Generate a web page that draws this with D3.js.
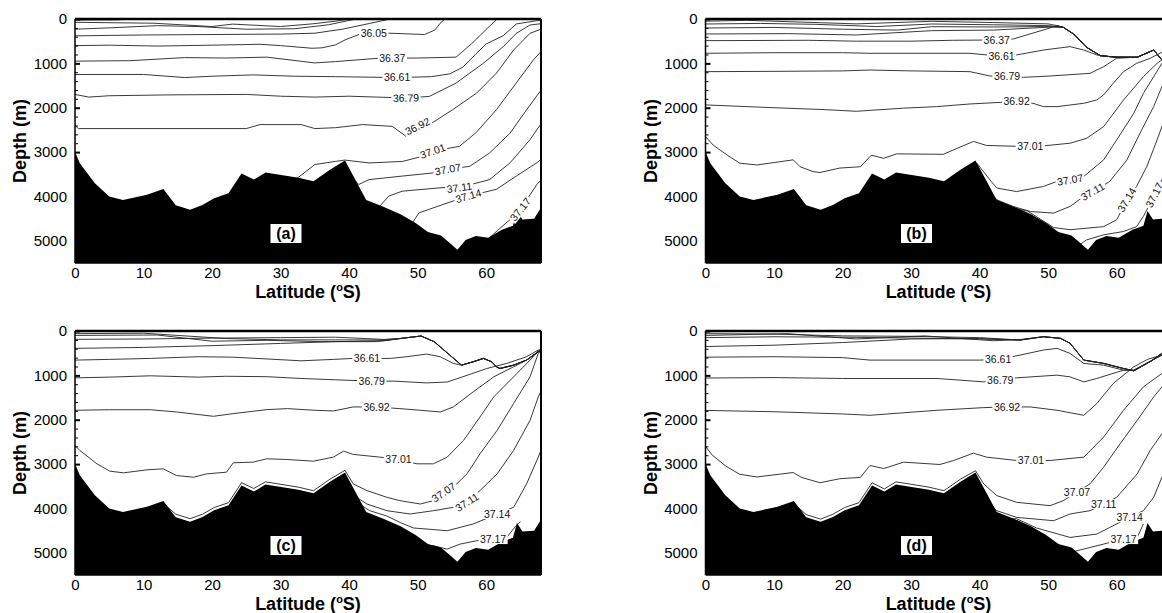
<!DOCTYPE html>
<html lang="en">
<head>
<meta charset="UTF-8">
<title>Salinity sections</title>
<script src="https://cdn.jsdelivr.net/npm/d3@7"></script>
<style>
  body { margin: 0; background: #fff; overflow: hidden; }
  svg { display: block; font-family: Arial, "Liberation Sans", Helvetica, sans-serif; }
  .tick text { font-size: 15px; fill: #000; }
  .domain { display: none; }
  .contour { fill: none; stroke: #222; stroke-width: 0.9; }
  .clabel { font-size: 10.5px; fill: #111; }
  .title { font-size: 18px; font-weight: bold; }
</style>
</head>
<body>
<script>
// axis ticks
var latTicks = [0, 10, 20, 30, 40, 50, 60];
var depthTicks = [0, 1000, 2000, 3000, 4000, 5000];

// bottom topography, [latitude S, depth m]
var bathy = [[0,2990],[0.7,3250],[2.9,3700],[5,4000],[7,4080],[10.5,3960],[12.9,3830],[14.7,4200],
  [16.8,4300],[18.6,4190],[20.3,4040],[22.4,3930],[24.3,3480],[26.1,3620],[27.8,3460],[32.6,3580],
  [34.8,3660],[37.2,3400],[39.4,3190],[42.5,4080],[45,4230],[47.5,4400],[49.7,4600],[51.5,4800],
  [53.4,4880],[54.9,5080],[55.8,5200],[57,4980],[58.5,4890],[60.3,4930],[62.3,4750],[63.9,4660],
  [64.5,4330],[65.3,4520],[67,4500],[68,4250]];

// ---- panel (a) isohalines ----
var aS1 = [[0,25],[6,20],[9,0]];
var aS2 = [[0,75],[11.5,95],[20,170],[23,115],[30,170],[34.6,110],[38,50],[40,0]];
var aS3 = [[0,230],[5,200],[12,150],[18,170],[25,230],[32,220],[37,130],[41,0]];
var aS4 = [[0,380],[10,360],[20,350],[30,340],[35,320],[39,230],[43,100],[46,0]];
var a3605 = [[0,600],[5,590],[12,610],[20,590],[27,570],[30,600],[34.6,660],[36,650],[38,584],[39.4,472],
  [41.9,320],[45,315],[51,350],[52.5,250],[53.5,60],[54,0]];
var a3637 = [[0,950],[8,940],[16,870],[22,880],[28,860],[35,990],[38,960],[44.4,884],[50,880],[55.6,860],
  [57,675],[58.1,525],[60.3,190],[61.6,0]];
var a3661 = [[0,1250],[10,1250],[16,1320],[20,1290],[26,1260],[32,1290],[38,1300],[47,1320],[52,1300],
  [54.7,1236],[56.6,1085],[58.5,787],[60,562],[62.5,375],[64.4,112],[67.4,38],[68.5,30]];
var a3679 = [[0,1700],[2,1760],[5,1730],[14,1710],[25,1700],[30,1740],[35,1760],[40,1740],[44,1760],
  [48.3,1780],[51.7,1745],[55.6,1445],[59.6,996],[62.5,622],[64.4,322],[66.4,135],[68.5,97]];
var a3692 = [[0,2400],[0.5,2470],[25,2470],[27,2380],[33,2380],[35,2470],[38,2450],[42,2380],[46.3,2420],
  [48.3,2645],[50,2420],[51.7,2382],[55.1,2045],[58.6,1670],[61.5,1220],[64,700],[66.4,322],[68.5,200]];
var a3701 = [[31,3700],[32.6,3570],[35,3280],[38,3210],[39.4,3180],[42.9,3245],[47.8,3210],[50.7,3095],
  [52.2,2980],[56.1,2870],[58.5,2565],[61.5,2045],[64.4,1440],[66.9,920],[68.5,650]];
var a3707 = [[40,3500],[41.4,3730],[42.9,3620],[47.8,3540],[52.2,3470],[54.4,3390],[57.6,3320],[60.5,3020],
  [63.5,2570],[65.9,2045],[68.5,1500]];
var a3711 = [[44,4300],[45.8,3990],[47.8,3880],[53.7,3800],[56.1,3800],[60.5,3620],[63.5,3240],[66.4,2720],
  [68.5,2250]];
var a3714 = [[49,4650],[50.2,4370],[53.7,4180],[57.4,3990],[61.5,3840],[64.4,3540],[67.4,3240],[68.5,3100]];
var a3717 = [[60,5000],[62,4720],[63.5,4520],[65,4290],[67.4,3730],[68.5,3550]];

// ---- panel (b) ----
var tailB = [[52.2,187],[53.7,337],[55.6,637],[57.6,826],[60,862],[63,862],[65.4,700],[66.6,923],[68.5,1000]];
var bS1 = [[0,50],[6,30],[14,70],[22,110],[33,52],[42,80],[50,110],[51.3,150]];
var bS2 = [[0,113],[8,100],[16,120],[25,170],[33,113],[42,130],[50,150]];
var bS3 = [[0,203],[10,190],[20,230],[28,250],[33,173],[42,180],[50.5,170]];
var bS4 = [[0,338],[12,330],[22,360],[33,263],[42,250],[50.5,180]];
var b3637 = [[0,488],[15,480],[22,500],[30,500],[36,480],[42.5,473],[44.9,450],[49.8,225],[51.3,150]];
var b3661 = [[0,773],[10,760],[20,760],[24,773],[38.6,773],[41,810],[43.2,833],[45.4,810],[49.3,700],
  [53.2,623],[55.2,700],[57.1,810],[59,850],[63,862],[65.4,700],[66.6,923],[68.5,1000]];
var b3679 = [[0,1187],[10,1180],[20,1170],[24,1150],[30,1170],[38.6,1187],[41.5,1285],[44,1300],[46.4,1315],
  [50.3,1285],[56.1,1225],[58.1,1075],[60,885],[63,862],[65.4,700],[66.6,923],[68.5,1000]];
var b3692 = [[0,1937],[10,2000],[17,2040],[22,2080],[28.9,2010],[33.7,1975],[38.6,1915],[45.4,1860],
  [47.8,1900],[49.3,1975],[51.3,1975],[55.2,1900],[57.1,1825],[58.1,1710],[59.5,1450],[61,1187],
  [62.9,1000],[64.9,885],[66.6,750],[68.5,650]];
var b3701 = [[0,2650],[1.1,2840],[3.1,3060],[5,3250],[7.5,3290],[12.8,3175],[13.8,3330],[15.7,3440],
  [16.7,3460],[19.6,3360],[22.6,3330],[24.2,3070],[26,3140],[27.9,3040],[34.7,3050],[36.2,2950],
  [39.1,2760],[41,2850],[45.4,2870],[49.3,2860],[53.2,2800],[55.6,2690],[58.1,2425],[61,1825],
  [63.9,1300],[65.9,1000],[68.5,700]];
var b3707 = [[39.6,3250],[41.5,3625],[42.5,3810],[45.4,3890],[49.3,3775],[51.3,3660],[53.2,3625],
  [55.2,3550],[58.1,3175],[60,2725],[62.5,2125],[63.9,1675],[65.4,1300],[66.6,1000],[68.5,750]];
var b3711 = [[41.5,3900],[42.5,4075],[44.9,4225],[47.4,4340],[50.8,4375],[53.2,4225],[55.2,4000],
  [56.4,3900],[59,3660],[61.5,3175],[63.4,2575],[65.4,1975],[66.6,1525],[68.5,1200]];
var b3714 = [[44,4240],[47,4330],[50.8,4700],[53.2,4750],[58.1,4680],[60,4525],[61.5,4075],[62.9,3775],
  [64.4,3325],[65.9,2725],[66.6,2425],[68.5,1900]];
var b3717 = [[54.2,5130],[55.6,4980],[58.1,4865],[61,4790],[62.9,4680],[63.9,4450],[65.4,4000],
  [66.6,3625],[68.5,3100]];

// ---- panel (c) ----
var tailC = [[50.5,113],[52.4,240],[54.4,505],[56.4,770],[58.1,694],[59.6,618],[60.8,694],[61.5,807],
  [62,845],[64,770],[65.9,656],[67.6,468],[68.5,420]];
var cS1 = [[0,15],[5,10],[9.5,0]];
var cS2 = [[0,60],[10,50],[15,100],[22,170],[30,200],[38,200],[45.1,204],[47.6,165]];
var cS3 = [[0,188],[10,180],[20,160],[30,150],[38,140],[45.1,190],[47.6,165]];
var cS4 = [[0,391],[10,370],[20,330],[30,280],[38,240],[45.1,220],[48,160]];
var cS5 = [[0,100],[12,90],[20,230],[28,210],[36,240],[44,240],[48,160]];
var c3661 = [[0,656],[5,640],[11,618],[18,580],[23,590],[28,630],[33,672],[37.7,640],[40.6,618],[46,618],
  [48.4,580],[51.3,520],[53.3,580],[55.2,730],[56.4,770],[58.1,694],[59.6,618],[60.8,694],[61.5,807],
  [62,845],[64,770],[65.9,656],[67.6,468],[68.5,420]];
var c3679 = [[0,1056],[5,1040],[11,1010],[18,1040],[22,1020],[28,1030],[33,1070],[38,1100],[43.3,1130],
  [46.5,1130],[51.3,1170],[54.3,1150],[57.2,1000],[60.1,845],[63,730],[65.9,580],[67.6,430],[68.5,400]];
var c3692 = [[0,1787],[5,1775],[11,1775],[14.8,1825],[20.2,1923],[23.1,1862],[28,1772],[31,1750],[35,1787],
  [37.7,1802],[40.6,1712],[44,1712],[47.4,1750],[50.4,1787],[53.3,1825],[55.2,1712],[58.1,1373],
  [61.1,1034],[64,807],[65.9,656],[67.6,468],[68.5,420]];
var c3701 = [[0,2580],[0.7,2692],[3.2,2994],[5.1,3160],[7.1,3197],[10.5,3129],[12.9,3107],[14.8,3258],
  [17.3,3296],[19.2,3220],[22.1,3183],[23.1,2971],[26,2956],[28,2881],[30.9,2896],[34.8,2934],
  [37.7,2843],[39.2,2707],[40.6,2782],[44.5,2843],[47.2,2900],[49.9,2994],[52.3,2994],[54.3,2843],
  [56.7,2466],[59.1,1938],[61.1,1486],[64,1034],[66.4,656],[67.6,450],[68.5,420]];
var c3707 = [[13,3900],[14.7,4130],[16.8,4230],[18.6,4130],[20.3,3980],[22.4,3870],[24.3,3420],
  [26.1,3550],[27.8,3400],[32.6,3520],[34.8,3600],[37.2,3340],[39.4,3140],[40.6,3446],[42.6,3597],
  [45.5,3748],[47.4,3824],[50.4,3900],[52.3,3824],[53.8,3636],[55.2,3522],[57.2,3220],[59.1,2768],
  [61.6,2240],[64,1636],[66.4,1034],[67.6,505],[68.5,420]];
var c3711 = [[40.5,3600],[41.1,3748],[42.6,3900],[45.5,4050],[48.9,4125],[52.3,4050],[55.2,3975],
  [57.2,3860],[59.1,3597],[61.6,3220],[64,2692],[66.4,2014],[67.6,1486],[68.5,1200]];
var c3714 = [[41,3850],[43,4050],[45.5,4170],[47.5,4320],[49.4,4440],[54.3,4502],[58.1,4351],[61.6,4125],
  [64,3975],[65.9,3446],[67.6,2843],[68.5,2500]];
var c3717 = [[51,4900],[52.3,4841],[54.3,4917],[56.2,4803],[58.6,4728],[61,4690],[63,4653],[64.3,4400],
  [65,4300]];

// ---- panel (d) ----
var tailD = [[49.3,129],[51.8,165],[53.2,278],[55.2,656],[58.1,731],[61,845],[62.5,898],[65,680],
  [66.6,505],[68.5,420]];
var dS1 = [[0,15],[5,10],[9,0]];
var dS2 = [[0,60],[10,70],[20,110],[30,120],[40,150],[45.9,204]];
var dS3 = [[0,150],[10,130],[20,140],[30,160],[40,180],[45.9,204]];
var dS4 = [[0,350],[10,320],[20,260],[30,180],[40,170],[45.9,204]];
var dS5 = [[0,100],[12,60],[22,180],[32,110],[42,220],[46,190]];
var d3661 = [[0,590],[10,580],[20,600],[24,656],[40.1,656],[42.7,640],[45.9,543],[49.3,430],[51.3,391],
  [53.2,505],[55.2,731],[58.1,770],[61,882],[62.5,882],[66.6,543],[68.5,450]];
var d3679 = [[0,1060],[10,1050],[20,1070],[24,1070],[33.8,1070],[40.6,1147],[43,1108],[45.4,1056],
  [51.3,995],[53.2,1034],[55.2,1147],[57.1,1070],[61,882],[62.5,882],[66.6,543],[68.5,450]];
var d3692 = [[0,1790],[10,1820],[20,1870],[24,1900],[33.8,1787],[40.6,1727],[44,1712],[47.4,1712],
  [51.3,1787],[55.2,1900],[57.1,1636],[59.5,1183],[62.5,807],[64.5,640],[66.6,543],[68.5,450]];
var d3701 = [[0,2600],[1,2800],[3,3050],[5,3230],[7.5,3290],[12.8,3190],[14,3300],[16.7,3420],[19.6,3330],
  [22.6,3300],[24,3032],[26,3100],[28.9,2957],[34.2,3009],[36.2,2919],[39.1,2753],[41,2843],[45.4,2919],
  [50.3,2919],[55.2,2843],[58.1,2391],[61,1787],[63.9,1260],[66.6,957],[68.5,700]];
var d3707 = [[13,3900],[14.7,4140],[16.8,4240],[18.6,4130],[20.3,3980],[22.4,3870],[24.3,3420],
  [26.1,3560],[27.8,3400],[32.6,3520],[34.8,3600],[37.2,3340],[39.4,3150],[40.6,3446],[42.5,3710],
  [45.4,3862],[50.3,3937],[52.2,3824],[54.2,3636],[56.1,3446],[58.1,3070],[60.5,2541],[63,2014],
  [65.4,1486],[66.6,1260],[68.5,900]];
var d3711 = [[41.5,3900],[42.5,4050],[45.4,4201],[50.8,4276],[53.2,4125],[56.1,4050],[58.1,3900],
  [60,3749],[63,3220],[64.9,2692],[66.6,2316],[68.5,1800]];
var d3714 = [[44,4250],[45.4,4230],[48.3,4440],[53.2,4653],[57.1,4578],[59,4427],[61.9,4201],[63.9,4050],
  [65.4,3749],[66.6,3296],[68.5,2700]];
var d3717 = [[52,4950],[53.2,4993],[56.1,4880],[58.1,4803],[59,4766],[61,4690],[63,4653],[63.9,4351]];

// which lines go in which panel; level "" = unlabelled
var linesA = [["", aS1], ["", aS2], ["", aS3], ["", aS4], ["36.05", a3605], ["36.37", a3637], ["36.61", a3661],
  ["36.79", a3679], ["36.92", a3692], ["37.01", a3701], ["37.07", a3707], ["37.11", a3711],
  ["37.14", a3714], ["37.17", a3717]];
var linesB = [["", bS1.concat(tailB)], ["", bS2.concat(tailB)], ["", bS3.concat(tailB)], ["", bS4.concat(tailB)],
  ["36.37", b3637.concat(tailB)], ["36.61", b3661], ["36.79", b3679], ["36.92", b3692], ["37.01", b3701],
  ["37.07", b3707], ["37.11", b3711], ["37.14", b3714], ["37.17", b3717]];
var linesC = [["", cS1], ["", cS2.concat(tailC)], ["", cS3.concat(tailC)], ["", cS4.concat(tailC)],
  ["", cS5.concat(tailC)], ["36.61", c3661], ["36.79", c3679], ["36.92", c3692], ["37.01", c3701],
  ["37.07", c3707], ["37.11", c3711], ["37.14", c3714], ["37.17", c3717]];
var linesD = [["", dS1], ["", dS2.concat(tailD)], ["", dS3.concat(tailD)], ["", dS4.concat(tailD)],
  ["", dS5.concat(tailD)], ["36.61", d3661], ["36.79", d3679], ["36.92", d3692], ["37.01", d3701],
  ["37.07", d3707], ["37.11", d3711], ["37.14", d3714], ["37.17", d3717]];

// contour labels: [level, latitude, follow the line?]
var labelsA = [["36.05",43.6,false],["36.37",46.3,false],["36.61",47,false],["36.79",48.3,true],
  ["36.92",50,true],["37.01",52.2,true],["37.07",54.4,true],["37.11",56.1,true],["37.14",57.4,true],
  ["37.17",65,true]];
var labelsB = [["36.37",42.5,false],["36.61",43.2,false],["36.79",44,false],["36.92",45.4,false],
  ["37.01",47.4,false],["37.07",53.2,true],["37.11",56.5,true],["37.14",61.5,true],["37.17",65.5,true]];
var labelsC = [["36.61",42.6,false],["36.79",43.3,false],["36.92",44,false],["37.01",47.2,false],
  ["37.07",53.8,true],["37.11",57.2,true],["37.14",61.6,false],["37.17",61,false]];
var labelsD = [["36.61",42.7,false],["36.79",43,false],["36.92",44,false],["37.01",47.5,false],
  ["37.07",54.2,false],["37.11",58.1,false],["37.14",61.9,false],["37.17",61,false]];

var W = 466, H = 244;
var panels = [
  {id: "a", left: 75, top: 19, lines: linesA, labels: labelsA},
  {id: "b", left: 705.5, top: 19, lines: linesB, labels: labelsB},
  {id: "c", left: 75, top: 331, lines: linesC, labels: labelsC},
  {id: "d", left: 705.5, top: 331, lines: linesD, labels: labelsD}
];

var svg = d3.select("body").append("svg")
    .attr("width", 1162)
    .attr("height", 613);

// point on a polyline at a given latitude
function pointAt(pts, lat) {
    for (var i = 0; i < pts.length - 1; i++) {
        var a = pts[i], b = pts[i + 1];
        if ((a[0] - lat) * (b[0] - lat) <= 0 && a[0] !== b[0]) {
            var t = (lat - a[0]) / (b[0] - a[0]);
            return [lat, a[1] + t * (b[1] - a[1])];
        }
    }
    return pts[pts.length - 1];
}

panels.forEach(function (p) {
    var x = d3.scaleLinear().domain([0, 68]).range([0, W]);
    var y = d3.scaleLinear().domain([0, 5500]).range([0, H]);

    var g = svg.append("g").attr("transform", "translate(" + p.left + "," + p.top + ")");
    g.append("clipPath").attr("id", "clip-" + p.id)
        .append("rect").attr("width", W).attr("height", H);
    var plot = g.append("g").attr("clip-path", "url(#clip-" + p.id + ")");

    var line = d3.line().x(function (d) { return x(d[0]); }).y(function (d) { return y(d[1]); });
    plot.selectAll("path.contour")
        .data(p.lines)
        .enter().append("path")
        .attr("class", "contour")
        .attr("d", function (d) { return line(d[1]); });

    var area = d3.area()
        .x(function (d) { return x(d[0]); })
        .y0(H)
        .y1(function (d) { return y(d[1]); });
    plot.append("path").attr("d", area(bathy)).attr("fill", "#000");

    // labels sit on the lines, with a white gap behind
    p.labels.forEach(function (lb) {
        var pts = p.lines.find(function (l) { return l[0] === lb[0]; })[1];
        var c = pointAt(pts, lb[1]);
        var ang = 0;
        if (lb[2]) {
            var p0 = pointAt(pts, lb[1] - 1.2), p1 = pointAt(pts, lb[1] + 1.2);
            ang = Math.atan2(y(p1[1]) - y(p0[1]), x(p1[0]) - x(p0[0])) * 180 / Math.PI;
        }
        var lg = plot.append("g")
            .attr("transform", "translate(" + x(c[0]) + "," + y(c[1]) + ") rotate(" + ang + ")");
        var bg = lg.append("rect").attr("fill", "#fff");
        var t = lg.append("text")
            .attr("class", "clabel")
            .attr("text-anchor", "middle")
            .attr("dy", "0.35em")
            .text(lb[0]);
        var len = t.node().getComputedTextLength() + 3;
        bg.attr("x", -len / 2).attr("y", -5).attr("width", len).attr("height", 10);
    });

    // axes
    var yAxis = g.append("g")
        .call(d3.axisLeft(y).tickValues(depthTicks).tickSizeInner(-5).tickSizeOuter(0).tickPadding(8)
            .tickFormat(d3.format("d")));
    yAxis.selectAll(".tick line").attr("stroke-width", 2);
    g.append("g")
        .call(d3.axisLeft(y).tickValues(d3.range(200, 5500, 200).filter(function (d) { return d % 1000; }))
            .tickSize(-3).tickFormat(""));

    g.append("g")
        .attr("transform", "translate(0," + H + ")")
        .call(d3.axisBottom(x).tickValues(latTicks).tickSizeInner(-5).tickSizeOuter(0).tickPadding(4));

    // frame
    g.append("line").attr("x1", 0).attr("x2", W).attr("y1", 0).attr("y2", 0)
        .attr("stroke", "#000").attr("stroke-width", 2.5);
    g.append("line").attr("x1", 0).attr("x2", 0).attr("y1", 0).attr("y2", H)
        .attr("stroke", "#000").attr("stroke-width", 1.5);
    g.append("line").attr("x1", W).attr("x2", W).attr("y1", 0).attr("y2", H)
        .attr("stroke", "#000").attr("stroke-width", 2);
    g.append("line").attr("x1", 0).attr("x2", W).attr("y1", H).attr("y2", H)
        .attr("stroke", "#000").attr("stroke-width", 1.5);

    // titles
    g.append("text")
        .attr("class", "title")
        .attr("transform", "translate(-55," + H / 2 + ") rotate(-90)")
        .attr("text-anchor", "middle")
        .attr("dy", "0.35em")
        .text("Depth (m)");
    var xt = g.append("text")
        .attr("class", "title")
        .attr("x", W / 2)
        .attr("y", H + 34.5)
        .attr("text-anchor", "middle");
    xt.append("tspan").text("Latitude (");
    xt.append("tspan").attr("font-size", "11px").attr("dy", "-7").text("o");
    xt.append("tspan").attr("dy", "7").text("S)");

    // panel letter
    g.append("rect").attr("x", 195.5).attr("y", 205).attr("width", 31).attr("height", 19).attr("fill", "#fff");
    g.append("text")
        .attr("x", 211).attr("y", 214.5)
        .attr("dy", "0.36em")
        .attr("text-anchor", "middle")
        .attr("font-size", "16px")
        .attr("font-weight", "bold")
        .text("(" + p.id + ")");
});
</script>
</body>
</html>
